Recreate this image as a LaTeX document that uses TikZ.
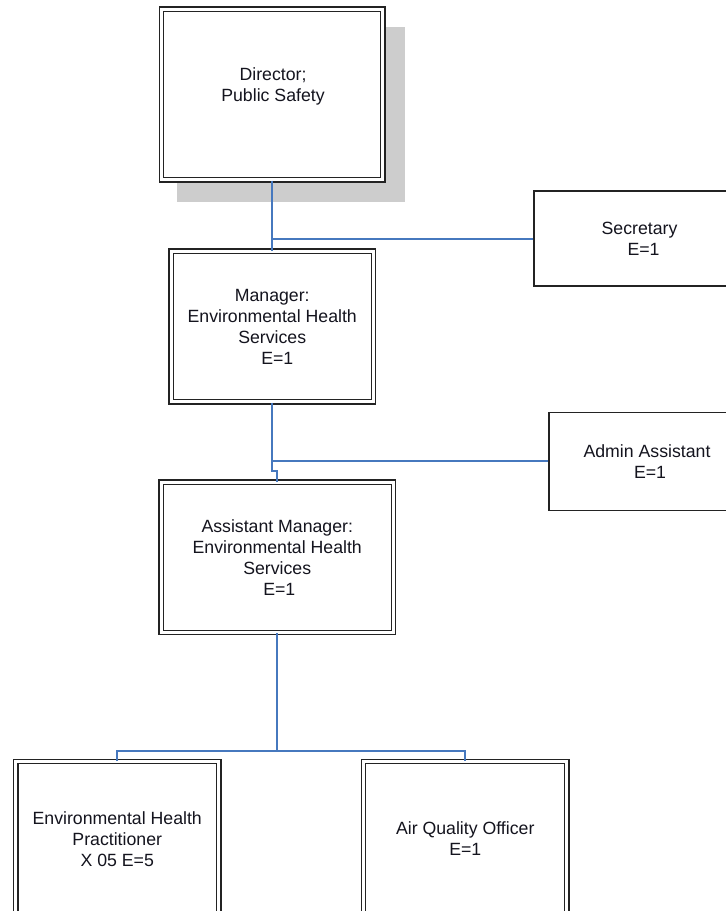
\documentclass[tikz,border=0pt]{standalone}
\usepackage{fontspec}
\setmainfont{Liberation Sans}
\definecolor{connblue}{RGB}{70,120,190}
\definecolor{shadowgray}{RGB}{205,205,205}
\definecolor{boxline}{RGB}{35,35,35}
\definecolor{txtcol}{RGB}{20,20,30}
\tikzset{
  orgtext/.style={font=\fontsize{17.7}{21}\selectfont, text=txtcol, align=center},
  dbox/.style={draw=boxline, double=white, double distance=3pt, line width=1.3pt,
    fill=white, inner sep=0pt, orgtext},
  sbox/.style={draw=boxline, line width=1.3pt, fill=white, inner sep=0pt, orgtext},
  conn/.style={draw=connblue, line width=2pt}
}
\begin{document}
\begin{tikzpicture}[x=1pt,y=-1pt]
\useasboundingbox (0,0) rectangle (726,911);
\clip (0,0) rectangle (726,911);
% shadow of director
\fill[shadowgray] (177,27) rectangle (405,202);
% boxes
\node[dbox, minimum width=221.2pt, minimum height=170.7pt] (dir) at (272.25,94.5) {};
\node[orgtext] (dirtext) at (273,86) {Director;\\Public Safety};
\node[sbox, minimum width=211pt, minimum height=95pt] (sec) at (639.5,238.5) {Secretary\\\hspace{8pt}E=1};
\node[dbox, minimum width=202.2pt, minimum height=150.7pt] (mgr) at (272.25,326.5) {Manager:\\Environmental Health\\Services\\\hspace{10pt}E=1};
\node[sbox, minimum width=196pt, minimum height=98pt] (adm) at (647,461.25) {Admin Assistant\\\hspace{6pt}E=1};
\node[dbox, minimum width=232.1pt, minimum height=150.2pt] (asst) at (277.25,557.25) {Assistant Manager:\\Environmental Health\\Services\\\hspace{4pt}E=1};
\node[dbox, minimum width=202.9pt, minimum height=154.2pt] (ehp) at (117.25,838.75) {Environmental Health\\Practitioner\\X 05 E=5};
\node[dbox, minimum width=203.4pt, minimum height=154.2pt] (aqo) at (465.25,838.75) {Air Quality Officer\\E=1};
% connectors
\coordinate (jog) at (272.25,471.25);
\coordinate (bus) at (277.25,751.25);
\draw[conn] (dir.south) -- (dir.south |- mgr.north);
\draw[conn] (sec.west) -- (sec.west -| dir.south);
\draw[conn] (mgr.south) -- (jog) -| (asst.north);
\draw[conn] (adm.west) -- (adm.west -| mgr.south);
\draw[conn] (asst.south) -- (bus);
\draw[conn] (ehp.north) |- (bus) -| (aqo.north);
\end{tikzpicture}
\end{document}
